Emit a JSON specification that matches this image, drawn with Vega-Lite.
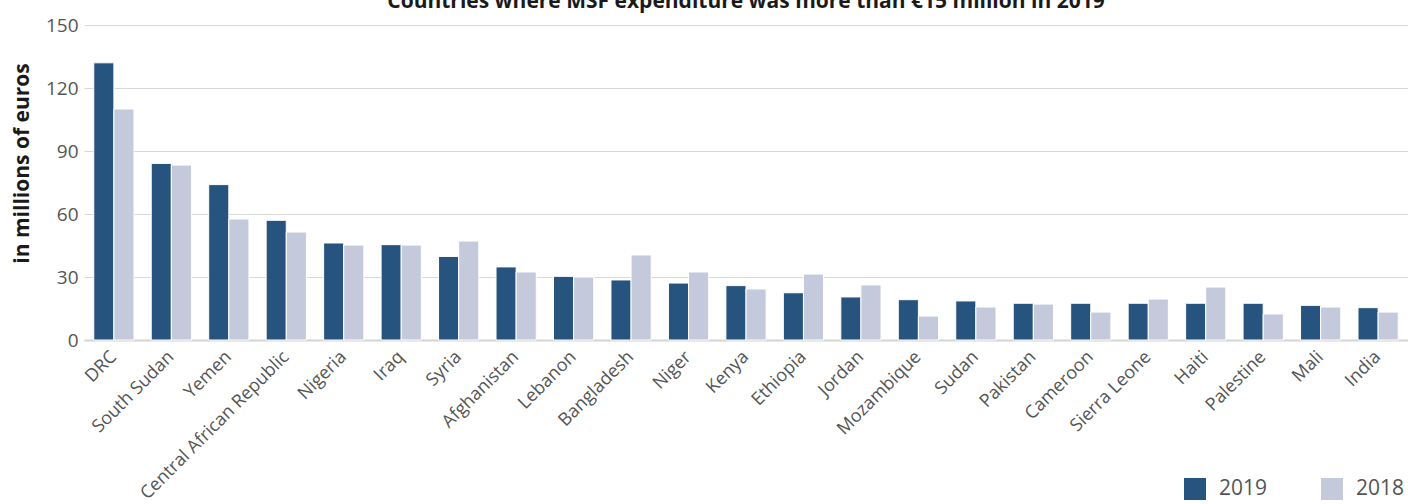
{
  "$schema": "https://vega.github.io/schema/vega-lite/v6.json",
  "autosize": "none",
  "width": 1324,
  "height": 315,
  "padding": {"left": 84, "top": 25, "right": 0, "bottom": 164},
  "background": "white",
  "title": {
    "text": "Countries where MSF expenditure was more than €15 million in 2019",
    "font": "Open Sans",
    "fontSize": 21,
    "fontWeight": "bold",
    "color": "#1a1a1a",
    "anchor": "middle",
    "frame": "group",
    "baseline": "alphabetic",
    "offset": 5,
    "dy": 18
  },
  "data": {
    "values": [
      {"country": "DRC", "year": "2019", "value": 132},
      {"country": "DRC", "year": "2018", "value": 110},
      {"country": "South Sudan", "year": "2019", "value": 84.1},
      {"country": "South Sudan", "year": "2018", "value": 83.3},
      {"country": "Yemen", "year": "2019", "value": 74},
      {"country": "Yemen", "year": "2018", "value": 57.6},
      {"country": "Central African Republic", "year": "2019", "value": 57},
      {"country": "Central African Republic", "year": "2018", "value": 51.4},
      {"country": "Nigeria", "year": "2019", "value": 46.2},
      {"country": "Nigeria", "year": "2018", "value": 45.2},
      {"country": "Iraq", "year": "2019", "value": 45.4},
      {"country": "Iraq", "year": "2018", "value": 45.2},
      {"country": "Syria", "year": "2019", "value": 39.8},
      {"country": "Syria", "year": "2018", "value": 47.1},
      {"country": "Afghanistan", "year": "2019", "value": 34.8},
      {"country": "Afghanistan", "year": "2018", "value": 32.4},
      {"country": "Lebanon", "year": "2019", "value": 30.3},
      {"country": "Lebanon", "year": "2018", "value": 30},
      {"country": "Bangladesh", "year": "2019", "value": 28.6},
      {"country": "Bangladesh", "year": "2018", "value": 40.5},
      {"country": "Niger", "year": "2019", "value": 27.1},
      {"country": "Niger", "year": "2018", "value": 32.4},
      {"country": "Kenya", "year": "2019", "value": 25.9},
      {"country": "Kenya", "year": "2018", "value": 24.3},
      {"country": "Ethiopia", "year": "2019", "value": 22.5},
      {"country": "Ethiopia", "year": "2018", "value": 31.4},
      {"country": "Jordan", "year": "2019", "value": 20.5},
      {"country": "Jordan", "year": "2018", "value": 26.2},
      {"country": "Mozambique", "year": "2019", "value": 19.2},
      {"country": "Mozambique", "year": "2018", "value": 11.4},
      {"country": "Sudan", "year": "2019", "value": 18.6},
      {"country": "Sudan", "year": "2018", "value": 15.7},
      {"country": "Pakistan", "year": "2019", "value": 17.5},
      {"country": "Pakistan", "year": "2018", "value": 17.1},
      {"country": "Cameroon", "year": "2019", "value": 17.5},
      {"country": "Cameroon", "year": "2018", "value": 13.3},
      {"country": "Sierra Leone", "year": "2019", "value": 17.5},
      {"country": "Sierra Leone", "year": "2018", "value": 19.5},
      {"country": "Haiti", "year": "2019", "value": 17.5},
      {"country": "Haiti", "year": "2018", "value": 25.2},
      {"country": "Palestine", "year": "2019", "value": 17.5},
      {"country": "Palestine", "year": "2018", "value": 12.4},
      {"country": "Mali", "year": "2019", "value": 16.5},
      {"country": "Mali", "year": "2018", "value": 15.7},
      {"country": "India", "year": "2019", "value": 15.4},
      {"country": "India", "year": "2018", "value": 13.3}
    ]
  },
  "mark": {"type": "bar", "stroke": "white", "strokeWidth": 1},
  "encoding": {
    "x": {
      "field": "country",
      "type": "nominal",
      "sort": null,
      "scale": {"paddingInner": 0.3, "paddingOuter": 0.17},
      "axis": {
        "title": null,
        "labelAngle": -45,
        "labelAlign": "right",
        "labelBaseline": "middle",
        "labelFont": "Open Sans",
        "labelFontSize": 18,
        "labelColor": "#555555",
        "labelPadding": 14,
        "labelOverlap": false,
        "labelLimit": 0,
        "ticks": false,
        "domainColor": "#d4d4d4",
        "domainWidth": 2,
        "grid": false
      }
    },
    "xOffset": {"field": "year", "type": "nominal", "sort": ["2019", "2018"]},
    "y": {
      "field": "value",
      "type": "quantitative",
      "scale": {"domain": [0, 150], "nice": false},
      "axis": {
        "title": "in millions of euros",
        "titleFont": "Open Sans",
        "titleFontSize": 21,
        "titleFontWeight": "bold",
        "titleColor": "#1a1a1a",
        "titleAngle": -90,
        "titleX": -62,
        "titleY": 138,
        "titleAlign": "center",
        "titleBaseline": "middle",
        "values": [0, 30, 60, 90, 120, 150],
        "labelFont": "Open Sans",
        "labelFontSize": 19,
        "labelColor": "#555555",
        "labelPadding": 6,
        "ticks": false,
        "domain": false,
        "grid": true,
        "gridColor": "#d8d8d8",
        "gridWidth": 1
      }
    },
    "color": {
      "field": "year",
      "type": "nominal",
      "scale": {"domain": ["2019", "2018"], "range": ["#27547e", "#c4cadc"]},
      "legend": {
        "title": null,
        "orient": "none",
        "direction": "horizontal",
        "legendX": 1100,
        "legendY": 453,
        "symbolType": "square",
        "symbolSize": 484,
        "symbolStrokeWidth": 0,
        "labelFont": "Open Sans",
        "labelFontSize": 21,
        "labelColor": "#555555",
        "labelOffset": 13,
        "columnPadding": 53
      }
    }
  },
  "config": {"view": {"stroke": null}}
}
